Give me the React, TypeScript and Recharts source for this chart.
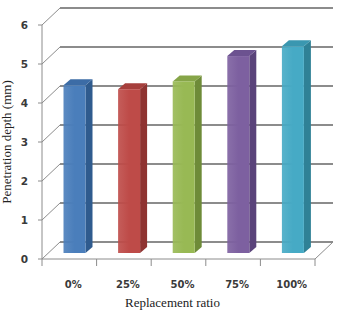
import { BarChart, Bar, XAxis, YAxis, CartesianGrid, Label } from 'recharts'

const categories = ['0%', '25%', '50%', '75%', '100%']
const depths = [4.3, 4.2, 4.4, 5.05, 5.3]
const yTicks = [0, 1, 2, 3, 4, 5, 6]

const fronts = ['#4a7ebb', '#be4b48', '#98b954', '#7d60a0', '#46aac5']
const sides = ['#2f5b8e', '#8e3331', '#6e8b38', '#5a437a', '#2f8196']
const tops = ['#3c6ca6', '#a63f3c', '#86a548', '#6c5290', '#3a97b0']

const data = categories.map((c, i) => ({ ratio: c, depth: depths[i] }))

const W = 337
const H = 311
const X_AXIS_H = 30
const M = { top: 25, right: 22, left: 0, bottom: 52 - X_AXIS_H }
const PLOT_BOTTOM = H - M.bottom - X_AXIS_H
const AXIS_W = 42
const BAND = (W - M.right - AXIS_W) / categories.length
const DX = 18 // wall depth
const DY = 17
const GRID = '#8c8c8c'

const GridLine = (p: any) => {
  const { x1, y1, x2 } = p
  const floor = Math.abs(y1 - PLOT_BOTTOM) < 1
  return (
    <g key={p.key}>
      <line x1={x1} y1={y1} x2={x1 + DX} y2={y1 - DY} stroke={GRID} strokeWidth={1} />
      <line x1={x1 + DX} y1={y1 - DY} x2={x2 + DX} y2={y1 - DY} stroke={GRID} strokeWidth={2} />
      {floor && <line x1={x2 + DX} y1={y1 - DY} x2={x2} y2={y1} stroke={GRID} strokeWidth={1} />}
    </g>
  )
}

const Bar3D = (p: any) => {
  const { x, y, width, height, index } = p
  const d = 7
  const fx = x + 5.5
  const top = y - 6
  const bottom = y + height - 6
  return (
    <g>
      <polygon
        points={`${fx + width},${top} ${fx + width + d},${top - d + 1} ${fx + width + d},${bottom - d + 1} ${fx + width},${bottom}`}
        fill={sides[index]}
      />
      <polygon
        points={`${fx},${top} ${fx + d},${top - d + 1} ${fx + width + d},${top - d + 1} ${fx + width},${top}`}
        fill={tops[index]}
      />
      <rect x={fx} y={top} width={width} height={bottom - top} fill={`url(#g${index})`} />
    </g>
  )
}

const XTick = (p: any) => {
  const { x, y, payload, index } = p
  return (
    <g>
      <line x1={x - BAND / 2} y1={y} x2={x - BAND / 2} y2={y + 7} stroke={GRID} />
      {index === categories.length - 1 && (
        <line x1={x + BAND / 2} y1={y} x2={x + BAND / 2} y2={y + 7} stroke={GRID} />
      )}
      <text x={x + 4} y={y + 29} textAnchor="middle" fontSize={10} fontWeight="bold" fill="#3a3a3a" fontFamily="DejaVu Sans">
        {payload.value}
      </text>
    </g>
  )
}

export default function App() {
  return (
    <div style={{ position: 'absolute', left: 0, top: 0, background: '#fff' }}>
      <BarChart width={W} height={H} data={data} margin={M} barSize={22}>
        <defs>
          {fronts.map((c, i) => (
            <linearGradient key={i} id={`g${i}`} x1="0" y1="0" x2="1" y2="0">
              <stop offset="0%" stopColor={c} stopOpacity={0.9} />
              <stop offset="50%" stopColor={c} />
              <stop offset="100%" stopColor={c} />
            </linearGradient>
          ))}
        </defs>
        <CartesianGrid vertical={false} horizontal={GridLine} />
        <XAxis
          dataKey="ratio"
          height={X_AXIS_H}
          tickLine={false}
          tickSize={0}
          tickMargin={0}
          axisLine={{ stroke: GRID }}
          tick={XTick}
          interval={0}
        >
          <Label
            content={({ viewBox }: any) => (
              <text x={viewBox.x + viewBox.width / 2 - 6} y={viewBox.y + 48} textAnchor="middle" fontSize={13} fontFamily="Liberation Serif" fill="#222">
                Replacement ratio
              </text>
            )}
          />
        </XAxis>
        <YAxis
          domain={[0, 6]}
          ticks={yTicks}
          width={AXIS_W}
          axisLine={{ stroke: GRID }}
          tickLine={{ stroke: GRID }}
          tickSize={4}
          tickMargin={10}
          tick={{ fontSize: 10.5, fontWeight: 'bold', fill: '#3a3a3a', fontFamily: 'DejaVu Sans' }}
        >
          <Label
            content={({ viewBox }: any) => {
              const cx = 11
              const cy = viewBox.y + viewBox.height / 2
              return (
                <text x={cx} y={cy} transform={`rotate(-90 ${cx} ${cy})`} textAnchor="middle" fontSize={13} fontFamily="Liberation Serif" fill="#222">
                  Penetration depth (mm)
                </text>
              )
            }}
          />
        </YAxis>
        <Bar dataKey="depth" shape={Bar3D} isAnimationActive={false} />
      </BarChart>
    </div>
  )
}
